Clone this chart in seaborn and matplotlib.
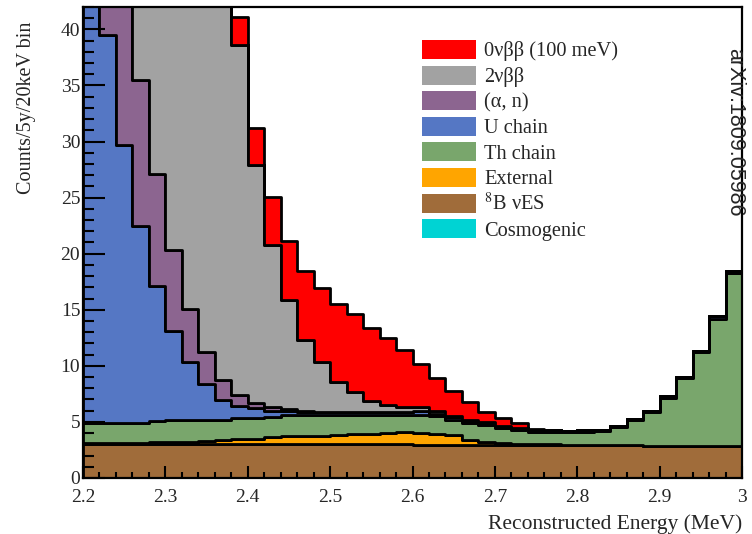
import numpy as np
import pandas as pd
import matplotlib
matplotlib.use("Agg")
import matplotlib.pyplot as plt
from matplotlib.patches import Patch
from matplotlib.ticker import MultipleLocator, FuncFormatter
import seaborn as sns

# Reconstructed-energy binning: 20 keV bins between 2.2 and 3.0 MeV
bin_edges = np.round(np.arange(2.20, 3.0001, 0.02), 3)
bin_centres = np.round(0.5 * (bin_edges[:-1] + bin_edges[1:]), 3)

# Expected counts per 5 y per 20 keV bin for each background / signal source
b8_nues = [3.0, 3.0, 3.0, 3.0, 3.0, 3.0, 3.0, 3.0, 3.0, 3.0,
           3.0, 3.0, 3.0, 3.0, 3.0, 3.0, 3.0, 3.0, 3.0, 3.0,
           2.95, 2.95, 2.95, 2.95, 2.95, 2.9, 2.9, 2.9, 2.9, 2.9,
           2.9, 2.9, 2.9, 2.9, 2.85, 2.85, 2.85, 2.85, 2.85, 2.85]
external = [0.15, 0.15, 0.15, 0.15, 0.2, 0.25, 0.25, 0.3, 0.35, 0.45,
            0.5, 0.65, 0.7, 0.7, 0.7, 0.85, 0.9, 0.9, 1.05, 1.1,
            1.1, 1.0, 0.85, 0.45, 0.25, 0.2, 0.15, 0.1, 0.1, 0.05,
            0.05, 0.05, 0.0, 0.0, 0.0, 0.0, 0.0, 0.0, 0.0, 0.0]
th_chain = [1.75, 1.75, 1.75, 1.75, 1.9, 1.9, 1.9, 1.85, 1.8, 1.9,
            1.85, 1.75, 1.95, 1.95, 1.95, 1.8, 1.75, 1.75, 1.6, 1.55,
            1.6, 1.55, 1.4, 1.5, 1.5, 1.35, 1.25, 1.1, 1.1, 1.15,
            1.15, 1.2, 1.65, 2.3, 3.05, 4.25, 6.05, 8.35, 11.35, 15.45]
u_chain = [45.0, 34.6, 24.8, 17.6, 12.0, 8.0, 5.2, 3.2, 1.8, 1.05,
           0.85, 0.55, 0.3, 0.25, 0.2, 0.2, 0.2, 0.2, 0.2, 0.2,
           0.3, 0.25, 0.2, 0.2, 0.2, 0.2, 0.2, 0.15, 0.2, 0.1,
           0.2, 0.1, 0.1, 0.1, 0.1, 0.2, 0.1, 0.15, 0.25, 0.2]
alpha_n = [12.0, 10.0, 16.0, 13.0, 10.0, 7.2, 4.7, 2.9, 1.8, 1.0,
           0.5, 0.35, 0.2, 0.1, 0.05, 0.05, 0.05, 0.0, 0.0, 0.0,
           0.0, 0.0, 0.0, 0.0, 0.0, 0.0, 0.0, 0.0, 0.0, 0.0,
           0.0, 0.0, 0.0, 0.0, 0.0, 0.0, 0.0, 0.0, 0.0, 0.0]
two_nbb = [420.0, 330.0, 250.0, 185.0, 135.0, 100.0, 74.0, 55.0, 42.0, 31.2,
           21.2, 14.5, 9.7, 6.3, 4.4, 2.7, 1.8, 1.0, 0.7, 0.5,
           0.4, 0.2, 0.15, 0.1, 0.05, 0.0, 0.0, 0.0, 0.0, 0.0,
           0.0, 0.0, 0.0, 0.0, 0.0, 0.0, 0.0, 0.0, 0.0, 0.0]
zero_nbb = [0.3, 0.4, 0.5, 0.7, 0.9, 1.1, 1.4, 1.7, 2.1, 2.5,
            3.3, 4.3, 5.25, 6.2, 6.6, 6.9, 6.9, 6.55, 5.95, 5.05,
            3.85, 3.0, 2.2, 1.6, 0.9, 0.7, 0.4, 0.1, 0.0, 0.0,
            0.0, 0.0, 0.0, 0.0, 0.0, 0.0, 0.0, 0.0, 0.0, 0.0]
cosmogenic = [0.0, 0.0, 0.0, 0.0, 0.0, 0.0, 0.0, 0.0, 0.0, 0.0,
              0.0, 0.0, 0.0, 0.0, 0.0, 0.0, 0.0, 0.0, 0.0, 0.0,
              0.0, 0.0, 0.0, 0.0, 0.0, 0.0, 0.0, 0.0, 0.0, 0.0,
              0.0, 0.0, 0.0, 0.0, 0.0, 0.0, 0.0, 0.0, 0.0, 0.0]

# Legend order, top of the stack first
source_labels = ["0νββ (100 meV)", "2νββ", "(α, n)", "U chain", "Th chain",
                 "External", r"$^{8}$B νES", "Cosmogenic"]
source_colours = ["#ff0000", "#a2a2a2", "#8c6590", "#5577c4", "#79a66c",
                  "#ffa500", "#a06c3a", "#00d3d3"]
source_counts = [zero_nbb, two_nbb, alpha_n, u_chain, th_chain,
                 external, b8_nues, cosmogenic]

frames = []
for label, counts in zip(source_labels, source_counts):
    frames.append(pd.DataFrame({"energy": bin_centres,
                                "counts": counts,
                                "source": label}))
spectrum = pd.concat(frames, ignore_index=True)

sns.set_theme(style="ticks")
plt.rcParams["font.family"] = ["Liberation Serif", "DejaVu Serif"]
plt.rcParams["mathtext.fontset"] = "stix"

fig = plt.figure(figsize=(7.52, 5.34), dpi=100)
ax = fig.add_axes([0.1104, 0.1049, 0.8763, 0.882])

palette = dict(zip(source_labels, source_colours))
sns.histplot(data=spectrum, x="energy", weights="counts", hue="source",
             hue_order=source_labels, palette=palette,
             bins=[float(b) for b in bin_edges],
             multiple="stack", element="step", fill=True, alpha=1,
             edgecolor="black", linewidth=2.0, legend=False, ax=ax)

ax.set_xlim(2.2, 3.0)
ax.set_ylim(0, 42)
# tick marks are drawn over the filled stack
ax.set_axisbelow(False)

ax.xaxis.set_major_locator(MultipleLocator(0.1))
ax.xaxis.set_minor_locator(MultipleLocator(0.02))
ax.yaxis.set_major_locator(MultipleLocator(5))
ax.yaxis.set_minor_locator(MultipleLocator(1))
ax.xaxis.set_major_formatter(FuncFormatter(lambda v, _: f"{v:g}"))

ax.tick_params(which="both", direction="in", top=False, right=False,
               width=1.5, color="black", labelsize=14)
ax.tick_params(axis="x", which="major", length=8.5, pad=8)
ax.tick_params(axis="x", which="minor", length=4.3)
ax.tick_params(axis="y", which="major", length=16, pad=2)
ax.tick_params(axis="y", which="minor", length=8)

for side in ["left", "bottom", "right", "top"]:
    ax.spines[side].set_linewidth(1.6)
    ax.spines[side].set_color("black")
    ax.spines[side].set_visible(True)
    ax.spines[side].set_zorder(5)

ax.set_xlabel("Reconstructed Energy (MeV)", fontsize=15.5, loc="right")
ax.set_ylabel("Counts/5y/20keV bin", fontsize=14.5, loc="top")
ax.xaxis.set_label_coords(1.0, -0.077)
ax.yaxis.set_label_coords(-0.071, 0.97)

handles = [Patch(facecolor=c, edgecolor="none", label=l)
           for l, c in zip(source_labels, source_colours)]
fig.legend(handles=handles, loc="upper left", bbox_to_anchor=(0.561, 0.925),
           frameon=False, fontsize=14.7, handlelength=2.65, handleheight=1.05,
           handletextpad=0.4, labelspacing=0.2, borderpad=0, borderaxespad=0)

fig.text(0.977, 0.753, "arXiv:1809.05986", rotation=-90, ha="center",
         va="center", fontsize=15.5, family=["Liberation Sans", "DejaVu Sans"])

fig.savefig("out.png", dpi=100)
